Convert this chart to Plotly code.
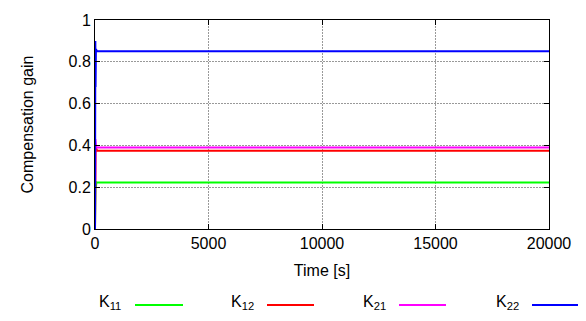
import plotly.graph_objects as go

time_s = [0, 5, 15, 25, 40, 60, 90, 150, 20000]
k11 = [0.0, 0.10, 0.20, 0.23, 0.20, 0.222, 0.222, 0.222, 0.222]
k12 = [0.0, 0.27, 0.15, 0.36, 0.39, 0.375, 0.375, 0.375, 0.375]
k21 = [0.0, 0.20, 0.43, 0.36, 0.40, 0.39, 0.39, 0.39, 0.39]
k22 = [0.0, 0.70, 0.90, 0.68, 0.86, 0.85, 0.85, 0.85, 0.85]

x_ticks = [0, 5000, 10000, 15000, 20000]
y_ticks = [0, 0.2, 0.4, 0.6, 0.8, 1]
y_tick_text = ["0", "0.2", "0.4", "0.6", "0.8", "1"]

names = ["K<sub>11</sub>", "K<sub>12</sub>", "K<sub>21</sub>", "K<sub>22</sub>"]
colors = ["#00ff00", "#ff0000", "#ff00ff", "#0000ff"]
series = [k11, k12, k21, k22]

fig = go.Figure()
for nm, c, ys in zip(names, colors, series):
    fig.add_trace(go.Scatter(x=time_s, y=ys, mode="lines", name=nm,
                             line=dict(color=c, width=2), showlegend=False))

font = "Liberation Sans, Arial, sans-serif"
FS = 16
axis_common = dict(showline=True, linecolor="black", linewidth=1, mirror="ticks",
                   ticks="inside", ticklen=5, tickcolor="black",
                   showgrid=True, gridcolor="#999999", griddash="2px,1px", gridwidth=1,
                   zeroline=False, ticklabeloverflow="allow",
                   tickfont=dict(size=FS, color="black", family=font))

# page body has an 8px margin; figure size and margins compensate for it
OFF = 8
W, H = 586 - OFF, 321 - OFF
L, R, T, B = 95 - OFF, 586 - 549, 4, 321 - 229
fig.update_layout(
    width=W, height=H,
    margin=dict(l=L, r=R, t=T, b=B),
    plot_bgcolor="white", paper_bgcolor="white",
    font=dict(family=font, color="black"),
    xaxis=dict(range=[0, 20000], tickvals=x_ticks, ticktext=[str(v) for v in x_ticks],
               title=dict(text="Time [s]", font=dict(size=FS), standoff=13), **axis_common),
    yaxis=dict(range=[0, 1], tickvals=y_ticks, ticktext=y_tick_text,
               title=dict(text="Compensation gain", font=dict(size=FS), standoff=30), **axis_common),
)

pw = W - L - R
ph = H - T - B
def px(x):
    return (x - OFF - L) / pw
def py(y):
    return (H - B - (y - OFF)) / ph

leg = [(97, 135, 183), (229, 267, 314), (361, 399, 446), (494, 532, 580)]
for (tx, l0, l1), nm, c in zip(leg, names, colors):
    fig.add_annotation(x=px(tx), y=py(305), xref="paper", yref="paper", text=nm,
                       showarrow=False, xanchor="left", yanchor="middle",
                       font=dict(size=FS, color="black", family=font))
    fig.add_shape(type="line", xref="paper", yref="paper", x0=px(l0), x1=px(l1),
                  y0=py(308), y1=py(308), line=dict(color=c, width=2))

fig.write_html("out.html")
